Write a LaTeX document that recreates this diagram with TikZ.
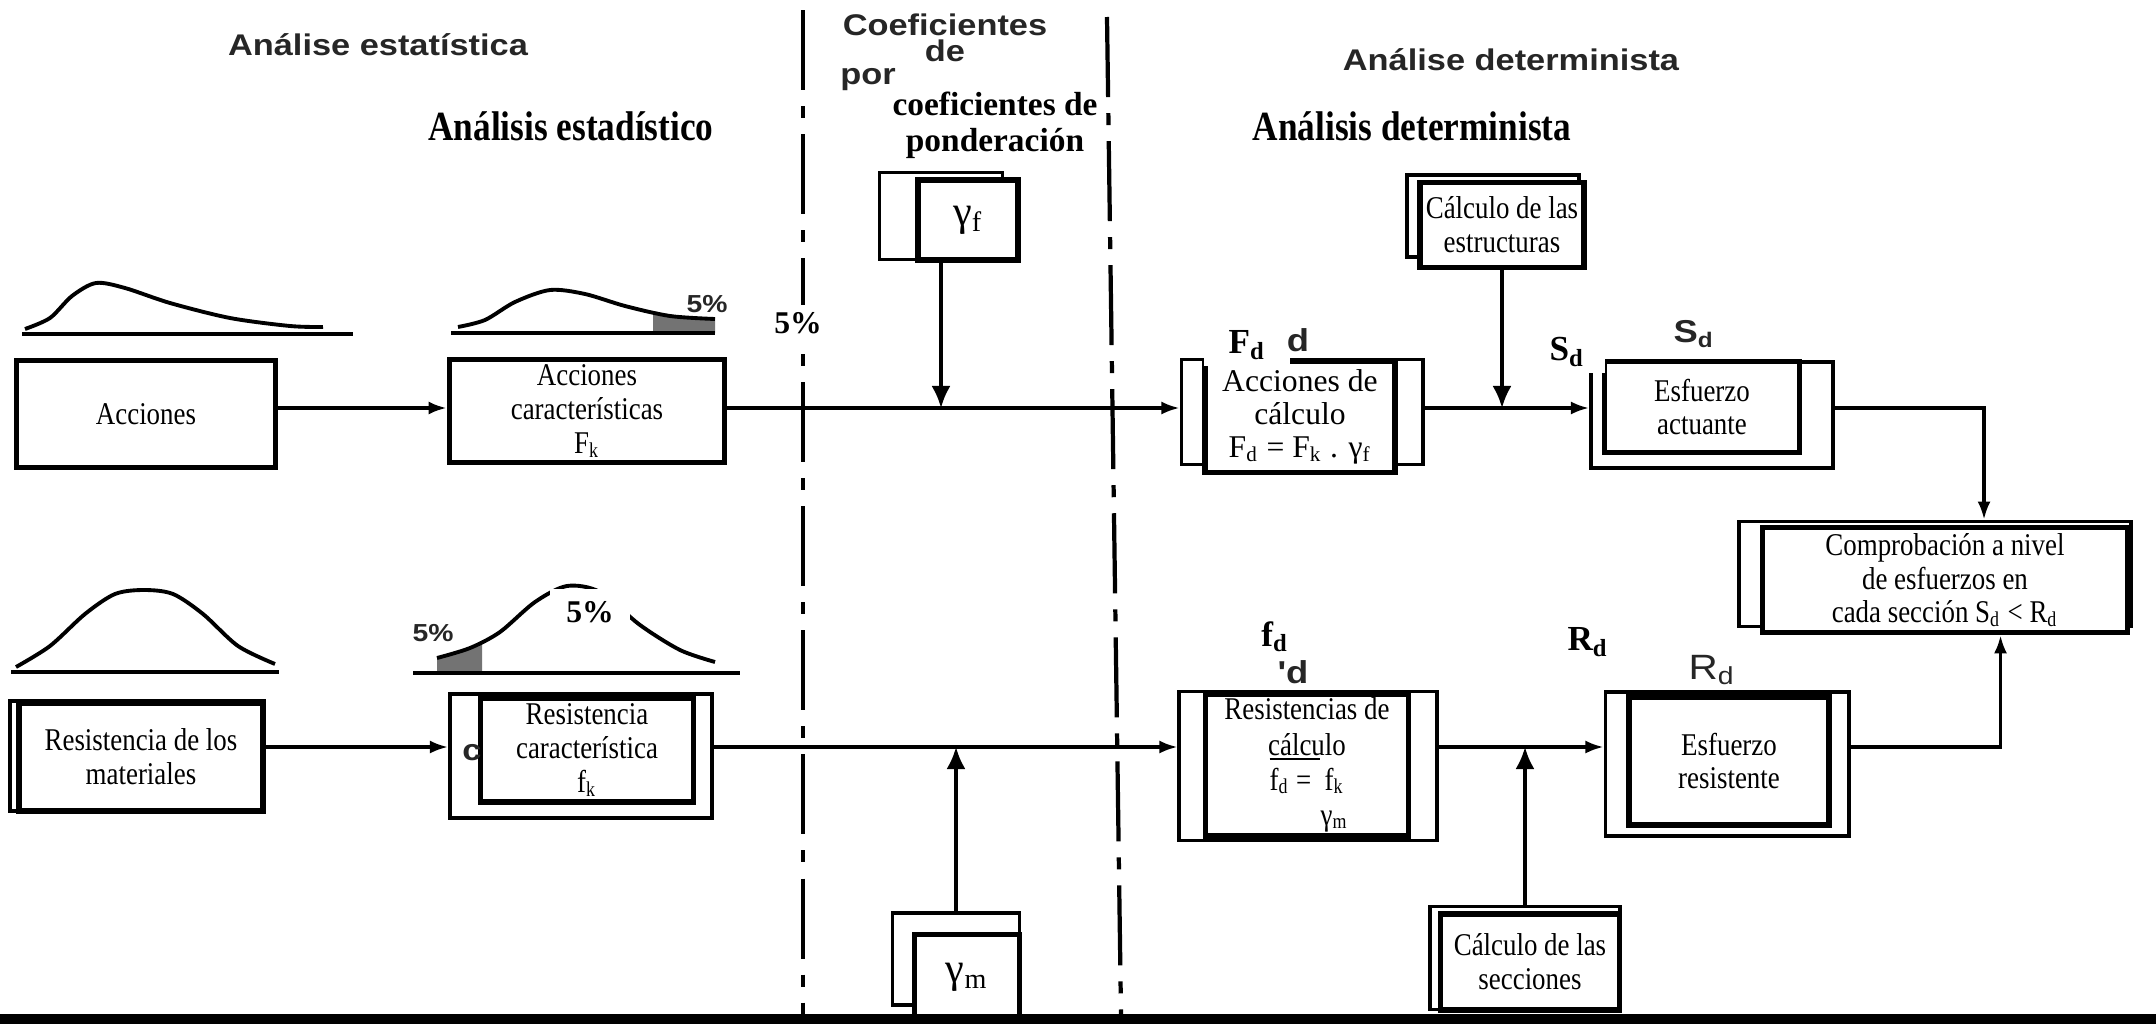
\documentclass[tikz,border=0pt]{standalone}
\usepackage{fontspec}
\setmainfont{Liberation Serif}[FakeStretch=0.85]
\newfontfamily\anchafont{Liberation Serif}
\newfontfamily\viejafont{Liberation Sans}[FakeStretch=1.15]
\usetikzlibrary{arrows.meta}

\tikzset{
	caja/.style={draw, line width=1.6pt, fill=white, align=center, inner sep=1pt, font=\fontsize{9}{9.6}\selectfont},
	fondo/.style={draw, line width=1.1pt, fill=white},
	linea/.style={line width=0.9pt},
	flecha/.style={linea, -{Latex[length=1.8mm,width=1.3mm]}},
	bajada/.style={linea, -{Latex[length=2.2mm,width=1.9mm]}},
	corte/.style={line width=1.2pt, dash pattern=on 8mm off 1.6mm on 1.2mm off 1.6mm},
	curva/.style={line width=1.1pt},
	titulo/.style={font=\fontsize{11.8}{13}\selectfont\bfseries},
	viejo/.style={text=black!85, inner sep=1pt, font=\viejafont\fontsize{8.5}{7.3}\selectfont\bfseries},
	marca/.style={inner sep=2pt, font=\anchafont\fontsize{10}{10}\selectfont\bfseries}
}

\begin{document}
\begin{tikzpicture}[x=0.01cm, y=-0.01cm]
\useasboundingbox (0,0) rectangle (2156,1024);

% lineas de corte
\draw[corte] (803,10) -- (803,1014);
\draw[corte] (1107,17) -- (1121,1014);

% curvas de distribucion
\draw[curva] plot[smooth] coordinates {(25,329) (50,318) (72,296) (96,283) (125,288) (170,303) (230,318) (290,326) (323,327)};
\draw[curva] (22,334) -- (353,334);
\fill[black!55] (653,333) -- (653,311) .. controls (675,316) and (695,318) .. (715,319) -- (715,333) -- cycle;
\draw[curva] plot[smooth] coordinates {(458,327) (485,320) (515,302) (550,290) (585,294) (625,306) (670,316) (715,319)};
\draw[curva] (451,333) -- (715,333);
\draw[curva] plot[smooth] coordinates {(16,667) (50,646) (85,614) (115,594) (144,590) (173,594) (203,614) (238,646) (275,664)};
\draw[curva] (11,672) -- (279,672);
\fill[black!55] (437,673) -- (437,658) .. controls (455,654) and (470,648) .. (482,642) -- (482,673) -- cycle;
\draw[curva] plot[smooth] coordinates {(437,658) (470,648) (500,632) (535,602) (567,586) (600,592) (640,625) (680,650) (715,662)};
\draw[curva] (413,673) -- (740,673);

% fila de acciones
\node[caja, minimum width=2.59cm, minimum height=1.07cm] (acc) at (146,414) {Acciones};
\node[caja, minimum width=2.75cm, minimum height=1.03cm] (acck) at (587,411) {Acciones\\características\\F\textsubscript{k}};
\node[fondo, minimum width=1.23cm, minimum height=0.87cm] (gfb) at (941,216) {};
\node[caja, minimum width=1.0cm, minimum height=0.8cm, font=\anchafont\fontsize{12}{12}\selectfont] (gf) at (968,220) {γ\textsubscript{f}};
\node[fondo, minimum width=2.41cm, minimum height=1.05cm] (accdb) at (1302,412) {};
\node[caja, minimum width=1.90cm, minimum height=1.11cm, font=\anchafont\fontsize{9}{9.4}\selectfont] (accd) at (1300,417) {Acciones de\\cálculo\\F\textsubscript{d} = F\textsubscript{k} . γ\textsubscript{f}};
\node[fondo, minimum width=1.72cm, minimum height=0.82cm] (estrb) at (1493,216) {};
\node[caja, minimum width=1.64cm, minimum height=0.85cm] (estr) at (1502,225) {Cálculo de las\\estructuras};
\node[fondo, minimum width=2.42cm, minimum height=1.06cm] (esfab) at (1712,415) {};
\node[caja, minimum width=1.95cm, minimum height=0.91cm] (esfa) at (1702,407) {Esfuerzo\\actuante};
\node[fondo, minimum width=3.92cm, minimum height=1.05cm] (compb) at (1935,574) {};
\node[caja, minimum width=3.65cm, minimum height=1.05cm] (comp) at (1945,580) {Comprobación a nivel\\de esfuerzos en\\cada sección S\textsubscript{d} < R\textsubscript{d}};

% fila de resistencias
\node[fondo, minimum width=2.53cm, minimum height=1.10cm] (resmb) at (137,756) {};
\node[caja, minimum width=2.44cm, minimum height=1.08cm] (resm) at (141,757) {Resistencia de los\\materiales};
\node[fondo, minimum width=2.62cm, minimum height=1.24cm] (reskb) at (581,756) {};
\node[caja, minimum width=2.13cm, minimum height=1.04cm] (resk) at (587,750) {Resistencia\\característica\\f\textsubscript{k}};
\node[fondo, minimum width=1.27cm, minimum height=0.92cm] (gmb) at (956,959) {};
\node[caja, minimum width=1.05cm, minimum height=0.85cm, font=\anchafont\fontsize{12}{12}\selectfont] (gm) at (967,977) {γ\textsubscript{m}};
\node[fondo, minimum width=2.57cm, minimum height=1.49cm] (resdb) at (1308,766) {};
\node[caja, minimum width=2.03cm, minimum height=1.42cm, font=\fontsize{9}{10}\selectfont] (resd) at (1307,765) {Resistencias de\\cálculo\\\rlap{\rule[2.1ex]{0.5cm}{0.6pt}}f\textsubscript{d} =\ \ f\textsubscript{k}\\\hspace*{0.55cm}γ\textsubscript{m}};
\node[fondo, minimum width=2.43cm, minimum height=1.44cm] (esfrb) at (1727,764) {};
\node[caja, minimum width=2.0cm, minimum height=1.28cm] (esfr) at (1729,761) {Esfuerzo\\resistente};
\node[fondo, minimum width=1.90cm, minimum height=1.03cm] (seccb) at (1525,958) {};
\node[caja, minimum width=1.79cm, minimum height=0.96cm] (secc) at (1530,962) {Cálculo de las\\secciones};

% conectores
\coordinate (fila1) at (0,408);
\coordinate (fila2) at (0,747);
\draw[flecha] (acc.east |- fila1) -- (acck.west |- fila1);
\draw[flecha] (acck.east |- fila1) -- (accdb.west |- fila1);
\draw[bajada] (gfb.south) -- (gfb.south |- fila1);
\draw[flecha] (accdb.east |- fila1) -- (esfab.west |- fila1);
\draw[bajada] (estr.south) -- (estr.south |- fila1);
\draw[flecha] (esfab.east |- fila1) -| ([xshift=0.49cm]compb.north);
\draw[flecha] (resm.east |- fila2) -- (reskb.west |- fila2);
\draw[flecha] (reskb.east |- fila2) -- (resdb.west |- fila2);
\draw[bajada] (gmb.north) -- (gmb.north |- fila2);
\draw[flecha] (resdb.east |- fila2) -- (esfrb.west |- fila2);
\draw[bajada] (seccb.north) -- (seccb.north |- fila2);
\draw[flecha] (esfrb.east |- fila2) -| ([xshift=0.555cm]comp.south);

% titulos
\node[viejo] (viejoest) at (378,45) {Análise estatística};
\node[viejo, align=center] (viejocoef) at (945,38) {Coeficientes\\de};
\node[viejo] (viejopor) at (868,80) {por};
\node[viejo] (viejodet) at (1511,60) {Análise determinista};
\node[titulo] (tituloest) at (571,126) {Análisis estadístico};
\node[titulo] (titulodet) at (1412,126) {Análisis determinista};
\node[font=\anchafont\fontsize{9.5}{10.2}\selectfont\bfseries, align=center] (coef) at (995,125) {coeficientes de\\ponderación};

% etiquetas
\node[viejo, font=\viejafont\fontsize{7}{7}\selectfont\bfseries] (cinco1) at (707,304) {5\%};
\node[viejo, font=\viejafont\fontsize{7}{7}\selectfont\bfseries] (cinco2) at (433,633) {5\%};
\node[marca, fill=white, font=\anchafont\fontsize{9}{9}\selectfont\bfseries] (cinco3) at (798,323) {5\%};
\node[marca, fill=white, minimum width=0.8cm, minimum height=0.45cm, font=\anchafont\fontsize{9}{9}\selectfont\bfseries] (cinco4) at (590,612) {5\%};
\node[viejo] (letrac) at (472,753) {c};
\node[marca, fill=white, minimum width=0.85cm, minimum height=0.42cm] (Fd) at (1247,345) {F\textsubscript{d}};
\node[viejo, font=\viejafont\fontsize{9}{9}\selectfont\bfseries] (viejod) at (1298,340) {d};
\node[marca, fill=white, minimum width=0.75cm, minimum height=0.42cm] (Sd) at (1567,352) {S\textsubscript{d}};
\node[viejo, font=\viejafont\fontsize{9}{9}\selectfont\bfseries] (viejoSd) at (1694,334) {S\textsubscript{d}};
\node[marca] (fd) at (1275,637) {f\textsubscript{d}};
\node[viejo, font=\viejafont\fontsize{9}{9}\selectfont\bfseries] (viejofd) at (1293,672) {'d};
\node[marca] (Rd) at (1588,642) {R\textsubscript{d}};
\node[viejo, font=\viejafont\fontsize{10}{10}\selectfont] (viejoRd) at (1712,670) {R\textsubscript{d}};

% barra inferior
\fill (0,1014) rectangle (2156,1024);
\end{tikzpicture}
\end{document}
